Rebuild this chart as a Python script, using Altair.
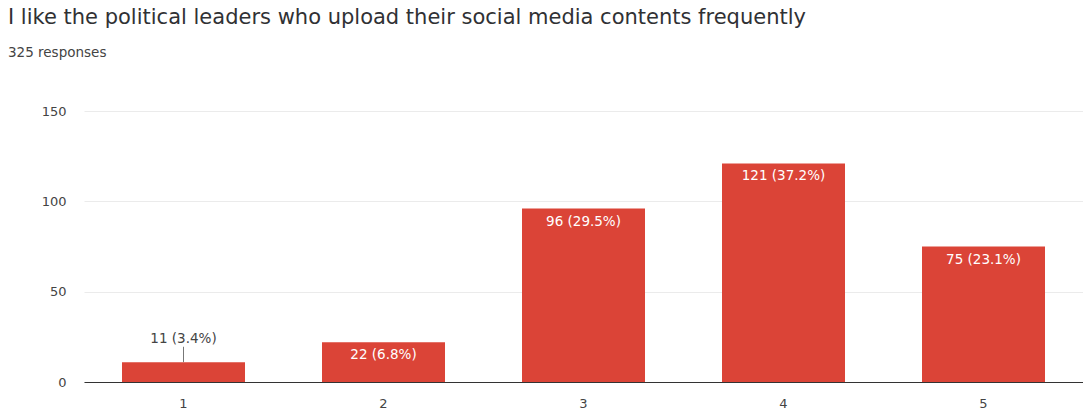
import altair as alt
import pandas as pd

categories = ["1", "2", "3", "4", "5"]
counts = [11, 22, 96, 121, 75]
labels = ["11 (3.4%)", "22 (6.8%)", "96 (29.5%)", "121 (37.2%)", "75 (23.1%)"]
inside = [False, True, True, True, True]

df = pd.DataFrame({"cat": categories, "count": counts, "label": labels, "inside": inside})

RED = "#db4437"
FONT = "DejaVu Sans"

x = alt.X("cat:N", sort=categories,
          scale=alt.Scale(paddingInner=0.385, paddingOuter=0.19),
          axis=alt.Axis(title=None, labelAngle=0, ticks=False, domainColor="#333333",
                        domainWidth=1, labelPadding=15, labelFontSize=13, labelColor="#444444",
                        labelFont=FONT, grid=False))
y = alt.Y("count:Q", scale=alt.Scale(domain=[0, 150]),
          axis=alt.Axis(title=None, values=[0, 50, 100, 150], ticks=False, domain=False,
                        gridColor="#ebebeb", labelPadding=18, labelFontSize=13,
                        labelColor="#444444", labelFont=FONT))

base = alt.Chart(df)
bars = base.mark_bar(color=RED).encode(x=x, y=y)
in_text = base.transform_filter("datum.inside").mark_text(
    color="white", fontSize=13.5, font=FONT, baseline="middle", dy=13
).encode(x=x, y=y, text="label:N")
out_text = base.transform_filter("!datum.inside").mark_text(
    color="#444444", fontSize=13.5, font=FONT, baseline="middle", dy=-23
).encode(x=x, y=y, text="label:N")
leader = base.transform_filter("!datum.inside").transform_calculate(
    top="datum.count + 8.5"
).mark_rule(color="#777777", strokeWidth=1).encode(x=x, y=y, y2="top:Q")

chart = alt.layer(bars, leader, in_text, out_text).properties(
    width=999, height=271,
    autosize=alt.AutoSizeParams(type="none"),
    padding={"left": 84, "top": 111, "right": 0, "bottom": 35},
    title=alt.TitleParams(
        text="I like the political leaders who upload their social media contents frequently",
        subtitle="325 responses", anchor="start", frame="group", dx=-76, dy=-42,
        font=FONT, fontSize=21, fontWeight="normal", color="#303134",
        subtitleFont=FONT, subtitleFontSize=13.5, subtitleColor="#444444", subtitlePadding=18,
    ),
).configure_view(stroke=None)

chart.save("out.html", embed_options={"renderer": "svg", "actions": False})
